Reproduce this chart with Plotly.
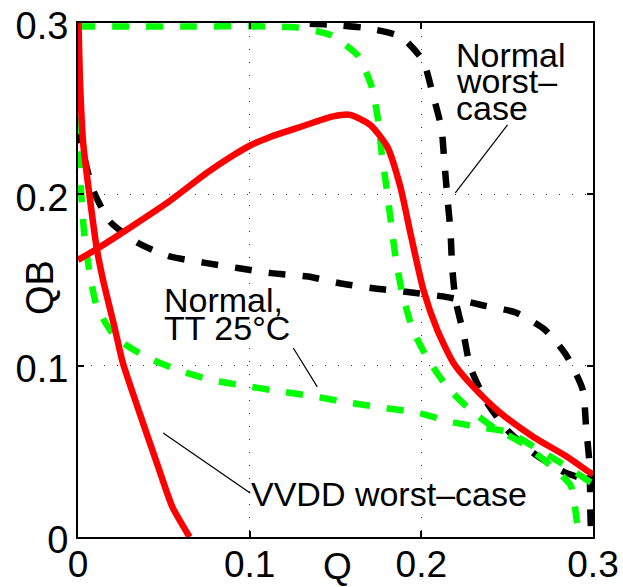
import plotly.graph_objects as go

# Butterfly curves: storage node Q vs. complementary node QB (V)
red_a_x = [0.0003, 0.0012, 0.003, 0.007, 0.011, 0.0146, 0.0216, 0.026, 0.036, 0.046, 0.055, 0.065]
red_a_y = [0.300, 0.265, 0.230, 0.197, 0.168, 0.150, 0.121, 0.102, 0.072, 0.043, 0.0175, 0.0]

red_b_x = [0.0, 0.0128, 0.0519, 0.075, 0.09, 0.1003, 0.112, 0.1294, 0.1487, 0.1586, 0.1703, 0.1802,
           0.1878, 0.1936, 0.2012, 0.2093, 0.2187, 0.2303, 0.2461, 0.2653, 0.2851, 0.2985, 0.3]
red_b_y = [0.1617, 0.1693, 0.195, 0.2125, 0.2225, 0.2285, 0.2335, 0.2393, 0.2455, 0.2464, 0.2405,
           0.2277, 0.2043, 0.1775, 0.1442, 0.1208, 0.1016, 0.0876, 0.0724, 0.0584, 0.0467, 0.0374,
           0.0368]

black_a_x = [0.0, 0.004, 0.0087, 0.0187, 0.035, 0.0525, 0.074, 0.093, 0.1125, 0.134, 0.153, 0.173,
             0.192, 0.215, 0.235, 0.255, 0.272, 0.2845, 0.294, 0.296, 0.298, 0.2985, 0.299]
black_a_y = [0.24, 0.22, 0.2026, 0.184, 0.1716, 0.164, 0.160, 0.157, 0.154, 0.152, 0.148, 0.145,
             0.143, 0.140, 0.1354, 0.131, 0.121, 0.106, 0.086, 0.064, 0.042, 0.013, 0.0]

black_b_x = [0.135, 0.1475, 0.168, 0.188, 0.201, 0.2065, 0.2117, 0.2134, 0.2152, 0.217, 0.218, 0.22,
             0.2245, 0.2286, 0.238, 0.250, 0.2653, 0.283, 0.3]
black_b_y = [0.2995, 0.299, 0.297, 0.292, 0.278, 0.259, 0.2388, 0.219, 0.198, 0.178, 0.157, 0.138,
             0.119, 0.099, 0.0788, 0.0625, 0.049, 0.038, 0.032]

green_a_x = [0.0, 0.06, 0.11, 0.1265, 0.147, 0.163, 0.171, 0.175, 0.177, 0.180, 0.1825, 0.1854,
             0.189, 0.195, 0.2035, 0.215, 0.2286, 0.2426, 0.2577, 0.2735, 0.287, 0.2905, 0.2925]
green_a_y = [0.298, 0.298, 0.298, 0.2975, 0.293, 0.281, 0.263, 0.242, 0.223, 0.202, 0.182, 0.1605,
             0.142, 0.121, 0.1045, 0.0876, 0.0741, 0.0636, 0.0555, 0.0432, 0.030, 0.010, 0.0]

green_b_x = [0.0003, 0.0006, 0.001, 0.0023, 0.004, 0.007, 0.0105, 0.016, 0.0225, 0.039, 0.0583,
             0.0776, 0.0985, 0.1166, 0.1359, 0.1592, 0.179, 0.1983, 0.2175, 0.2373, 0.2507, 0.265,
             0.28, 0.3]
green_b_y = [0.245, 0.2347, 0.2154, 0.1938, 0.1728, 0.153, 0.136, 0.125, 0.116, 0.1055, 0.0975,
             0.0917, 0.088, 0.0852, 0.0823, 0.0782, 0.0753, 0.0724, 0.0671, 0.0636, 0.0613, 0.053,
             0.044, 0.031]

tick_vals = [0, 0.1, 0.2, 0.3]
tick_text = ["0", "0.1", "0.2", "0.3"]

FONT = "Liberation Sans, Arial, Helvetica, sans-serif"
DASH = "17px,17px"

fig = go.Figure()

def add_curve(x, y, color, dash, width):
    fig.add_trace(go.Scatter(
        x=x, y=y, mode="lines",
        line=dict(color=color, width=width, dash=dash, shape="spline", smoothing=0.6),
        showlegend=False, hoverinfo="skip",
    ))

add_curve(black_a_x, black_a_y, "#000000", DASH, 6.5)
add_curve(black_b_x, black_b_y, "#000000", DASH, 6.5)
add_curve(green_a_x, green_a_y, "#00ff00", DASH, 6.5)
add_curve(green_b_x, green_b_y, "#00ff00", DASH, 6.5)
add_curve(red_a_x, red_a_y, "#ff0000", "solid", 6.5)
add_curve(red_b_x, red_b_y, "#ff0000", "solid", 6.5)

axis_common = dict(
    range=[0, 0.3], tickvals=tick_vals, ticktext=tick_text,
    showgrid=True, gridcolor="#333333", gridwidth=1, griddash="1px,12px",
    zeroline=False, showline=True, linecolor="black", linewidth=2, mirror="allticks",
    ticks="inside", ticklen=6, tickwidth=1.5, tickcolor="black",
    automargin=False,
)

fig.update_xaxes(**axis_common, ticklabelstandoff=-6,
                 tickfont=dict(family=FONT, size=37, color="black"))
fig.update_yaxes(**axis_common, ticklabelshift=3,
                 tickfont=dict(family=FONT, size=38, color="black"))

label_font = dict(family=FONT, size=34, color="black")

labels = [
    ("Normal", 0.2193, 0.2814),
    ("worst\u2013", 0.2193, 0.2662),
    ("case", 0.2193, 0.2504),
    ("Normal,", 0.049, 0.1384),
    ("TT 25\u00b0C", 0.049, 0.1220),
    ("VVDD worst\u2013case", 0.0995, 0.0251),
]
annotations = [
    dict(text=t, x=x, y=y, xref="x", yref="y", xanchor="left", yanchor="middle",
         showarrow=False, font=label_font)
    for t, x, y in labels
]
annotations.append(dict(text="Q", x=0.503, y=-0.057, xref="paper", yref="paper",
                        xanchor="center", yanchor="middle", showarrow=False,
                        font=dict(family=FONT, size=37, color="black")))
annotations.append(dict(text="QB", x=-0.074, y=0.486, xref="paper", yref="paper",
                        xanchor="center", yanchor="middle", textangle=-90, showarrow=False,
                        font=dict(family=FONT, size=38, color="black")))

# leader lines from the labels to their curves
leaders = [
    (0.2502, 0.2405, 0.2198, 0.2008),
    (0.1254, 0.1103, 0.1394, 0.0876),
    (0.0496, 0.0607, 0.1003, 0.0257),
]
shapes = [
    dict(type="line", xref="x", yref="y", x0=a, y0=b, x1=c, y1=d,
         line=dict(color="black", width=1.2))
    for a, b, c, d in leaders
]

fig.update_layout(
    width=623, height=587,
    margin=dict(l=78, r=30, t=23, b=50, autoexpand=False),
    paper_bgcolor="white", plot_bgcolor="white",
    annotations=annotations, shapes=shapes,
)

fig.write_html("out.html", config={"displayModeBar": False})
